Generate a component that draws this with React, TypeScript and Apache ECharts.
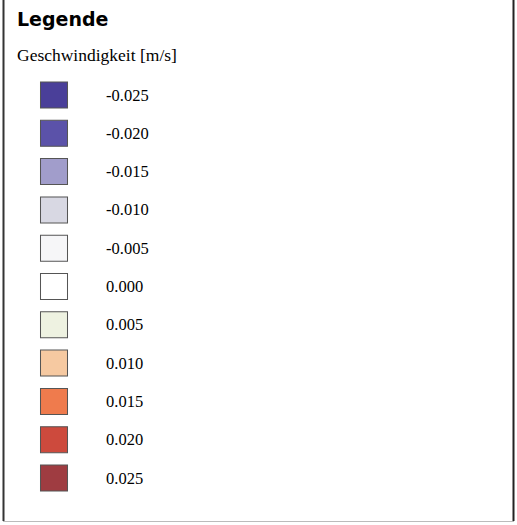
import React, { useEffect, useRef } from "react";
import * as echarts from "echarts";

const categories = ["-0.025", "-0.020", "-0.015", "-0.010", "-0.005", "0.000", "0.005", "0.010", "0.015", "0.020", "0.025"];
const swatchColors = ["#4a3f99", "#5b52a9", "#a19dcb", "#d8d8e3", "#f6f6f8", "#ffffff", "#eef2e1", "#f6c9a1", "#ef7b4d", "#cd4a3d", "#9f3c41"];
const titleText = "Legende";
const subtitleText = "Geschwindigkeit [m/s]";

export default function App() {
  const ref = useRef<HTMLDivElement>(null);
  useEffect(() => {
    if (!ref.current) return;
    const chart = echarts.init(ref.current, undefined, { renderer: "svg" });
    chart.setOption({
      animation: false,
      backgroundColor: "#ffffff",
      grid: { left: 40, width: 28, top: 75.85, bottom: 27.85 },
      xAxis: { type: "value", min: 0, max: 1, show: false },
      yAxis: { type: "category", data: categories, inverse: true, show: false, boundaryGap: true },
      graphic: [
        { type: "text", left: 17, top: 9, style: { text: titleText, font: "bold 19px 'DejaVu Sans'", fill: "#000" } },
        { type: "text", left: 17, top: 46, style: { text: subtitleText, font: "17.5px 'Liberation Serif'", fill: "#000" } },
        { type: "line", shape: { x1: 3.5, y1: 0, x2: 3.5, y2: 521 }, style: { stroke: "#333", lineWidth: 2 } },
        { type: "line", shape: { x1: 513.5, y1: 0, x2: 513.5, y2: 521 }, style: { stroke: "#222", lineWidth: 2 } },
        { type: "line", shape: { x1: 3, y1: 521.5, x2: 514, y2: 521.5 }, style: { stroke: "#bbb", lineWidth: 1 } },
      ],
      series: [
        {
          type: "scatter",
          symbol: "rect",
          symbolSize: [27, 26],
          data: categories.map((c, i) => ({
            value: [0.5, c],
            itemStyle: { color: swatchColors[i], borderColor: "#555", borderWidth: 1, opacity: 1 },
          })),
          itemStyle: { opacity: 1 },
          label: {
            show: true,
            position: "right",
            distance: 38,
            formatter: (p: any) => p.value[1],
            fontFamily: "Liberation Serif",
            fontSize: 16.5,
            color: "#000",
          },
        },
      ],
    });
    return () => chart.dispose();
  }, []);
  return <div ref={ref} style={{ position: "fixed", left: 0, top: 0, width: 517, height: 525 }} />;
}
